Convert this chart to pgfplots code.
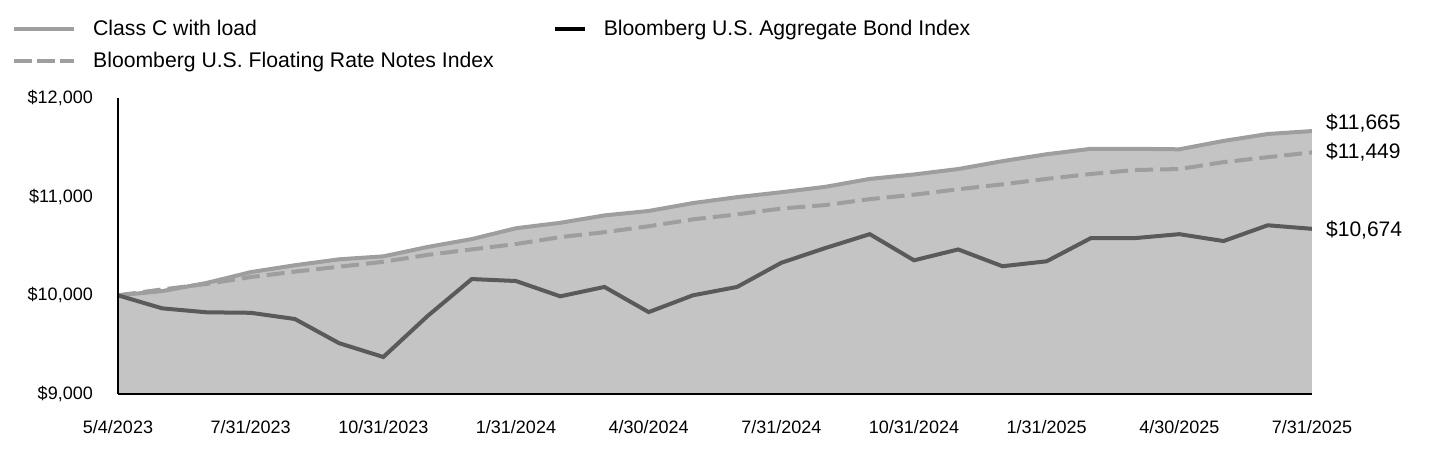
\documentclass[border=0pt]{standalone}
\usepackage{pgfplots}
\pgfplotsset{compat=1.18}
\usepackage{pgfplotstable}
\usepackage{fontspec}
\setmainfont{Liberation Sans}

\definecolor{areagray}{HTML}{C4C4C4}
\definecolor{classc}{HTML}{9E9E9E}
\definecolor{frn}{HTML}{9E9E9E}
\definecolor{agg}{HTML}{5A5A5A}

% month index 0 = 5/4/2023 ... 27 = 7/31/2025
\pgfplotstableread{
i classc frn agg
0 10000 10000 10000
1 10043 10060 9868
2 10125 10115 9828
3 10235 10185 9823
4 10305 10240 9760
5 10365 10290 9515
6 10395 10340 9375
7 10490 10410 9790
8 10570 10465 10165
9 10680 10520 10145
10 10735 10590 9990
11 10810 10640 10085
12 10855 10700 9830
13 10935 10770 10000
14 10995 10820 10085
15 11045 10880 10330
16 11100 10915 10480
17 11180 10975 10620
18 11225 11020 10355
19 11280 11075 10465
20 11360 11125 10295
21 11430 11180 10345
22 11485 11230 10580
23 11485 11270 10580
24 11480 11280 10620
25 11565 11350 10550
26 11635 11400 10710
27 11665 11449 10674
}\growth

\begin{document}
\begin{tikzpicture}
\useasboundingbox (0pt,0pt) rectangle (1440pt,468pt);
\begin{axis}[
    at={(118pt,74pt)}, anchor=south west,
    scale only axis, width=1194pt, height=296pt,
    xmin=0, xmax=27, ymin=9000, ymax=12000,
    axis x line*=bottom, axis y line*=left,
    axis line style={black, line width=2pt, -},
    axis on top,
    clip mode=individual,
    major tick length=0pt,
    scaled y ticks=false,
    xtick={0,3,...,27},
    xticklabels={5/4/2023,7/31/2023,10/31/2023,1/31/2024,4/30/2024,7/31/2024,10/31/2024,1/31/2025,4/30/2025,7/31/2025},
    ytick={9000,10000,11000,12000},
    yticklabels={{\$9,000},{\$10,000},{\$11,000},{\$12,000}},
    tick label style={font=\fontsize{18}{22}\selectfont, inner sep=0pt},
    xticklabel style={anchor=base, yshift=-39.4pt},
    yticklabel style={anchor=east, xshift=-25pt},
    legend columns=2,
    legend style={draw=none, fill=none, inner sep=0pt,
        at={(rel axis cs:-0.0888,1.2635)}, anchor=north west,
        font=\fontsize{21.2}{25}\selectfont,
        nodes={inner sep=0pt, text height=15pt, text depth=5pt},
        row sep=12pt,
        /tikz/every odd column/.append style={column sep=17pt},
        /tikz/every even column/.append style={column sep=59pt}},
    legend cell align=left,
    legend image code/.code={\draw[#1] (0pt,1.5pt) -- (60pt,1.5pt);},
]
\addplot[fill=areagray, draw=none, forget plot] table[x=i, y=classc] {\growth} \closedcycle;
\addplot[classc, line width=4pt, forget plot] table[x=i, y=classc] {\growth};
\addplot[frn, line width=4pt, dash pattern=on 18pt off 7pt, forget plot] table[x=i, y=frn] {\growth};
\addplot[agg, line width=4pt, forget plot] table[x=i, y=agg] {\growth};

\addlegendimage{classc, line width=4pt}
\addlegendentry{Class C with load}
\addlegendimage{legend image code/.code={\draw[black, line width=4pt] (0pt,1.5pt) -- (30pt,1.5pt);}}
\addlegendentry{Bloomberg U.S. Aggregate Bond Index}
\addlegendimage{frn, line width=4pt, dash pattern=on 17.7pt off 5pt}
\addlegendentry{Bloomberg U.S. Floating Rate Notes Index}

\node[anchor=base west, inner sep=0pt, xshift=14pt, yshift=1.7pt, font=\fontsize{21}{25}\selectfont] at (axis cs:27,11665) {\$11,665};
\node[anchor=base west, inner sep=0pt, xshift=14pt, yshift=-6pt, font=\fontsize{21}{25}\selectfont] at (axis cs:27,11449) {\$11,449};
\node[anchor=base west, inner sep=0pt, xshift=14pt, yshift=-7.2pt, font=\fontsize{21}{25}\selectfont] at (axis cs:27,10674) {\$10,674};
\end{axis}
\end{tikzpicture}
\end{document}
